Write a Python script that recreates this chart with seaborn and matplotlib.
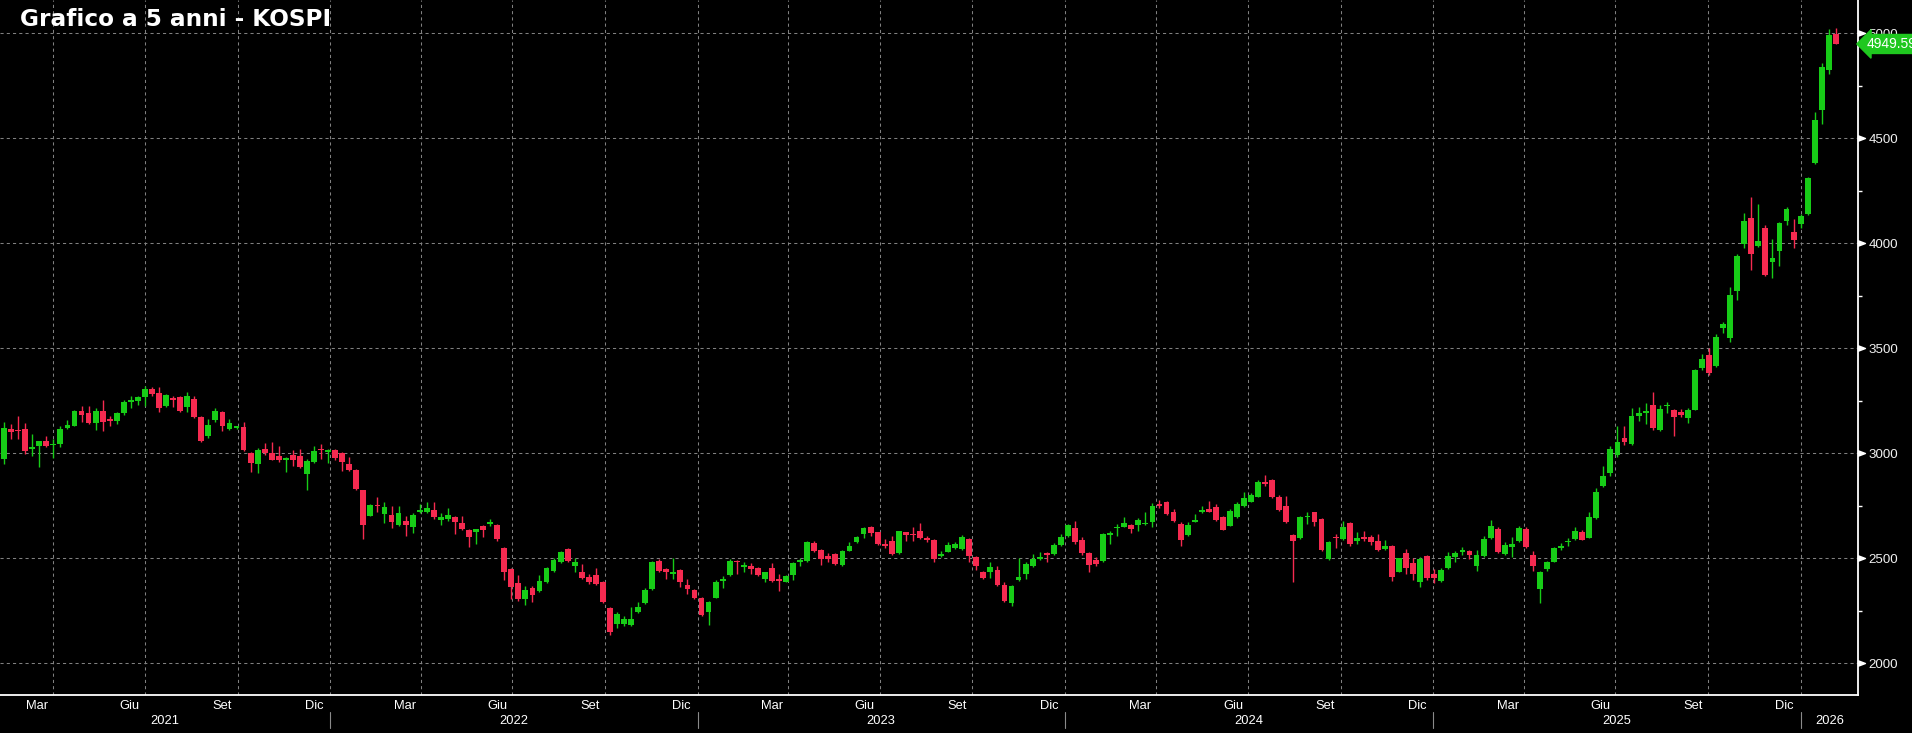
import numpy as np
import pandas as pd
import matplotlib
matplotlib.use("Agg")
import matplotlib.pyplot as plt
import matplotlib.dates as mdates
from matplotlib.transforms import blended_transform_factory
from matplotlib.path import Path
import seaborn as sns

# ---------------- data (weekly OHLC, KOSPI) ----------------
first_week = "2021-02-08"
opens = [2973, 3116, 3111, 3116, 3020, 3033, 3060, 3040, 3044, 3122,
         3132, 3202, 3192, 3144, 3202, 3163, 3156, 3192, 3246, 3251,
         3267, 3306, 3287, 3227, 3263, 3267, 3219, 3259, 3171, 3084,
         3160, 3198, 3116, 3122, 3124, 3001, 2949, 3021, 3001, 2986,
         2970, 2992, 2986, 2902, 2957, 3017, 3005, 3016, 3001, 2949,
         2921, 2825, 2703, 2754, 2711, 2706, 2660, 2679, 2651, 2719,
         2719, 2730, 2684, 2687, 2698, 2668, 2635, 2624, 2652, 2662,
         2660, 2549, 2449, 2382, 2306, 2359, 2346, 2386, 2441, 2481,
         2544, 2465, 2433, 2409, 2421, 2389, 2262, 2187, 2187, 2182,
         2243, 2287, 2354, 2487, 2449, 2425, 2444, 2373, 2351, 2309,
         2246, 2313, 2390, 2421, 2487, 2460, 2462, 2452, 2401, 2452,
         2401, 2389, 2421, 2484, 2489, 2573, 2540, 2509, 2521, 2468,
         2536, 2576, 2616, 2647, 2624, 2568, 2584, 2525, 2624, 2613,
         2628, 2595, 2587, 2509, 2532, 2547, 2544, 2592, 2508, 2436,
         2433, 2446, 2373, 2287, 2398, 2425, 2462, 2497, 2525, 2521,
         2564, 2605, 2644, 2587, 2525, 2492, 2489, 2613, 2643, 2651,
         2659, 2659, 2663, 2675, 2757, 2770, 2722, 2664, 2611, 2675,
         2719, 2735, 2743, 2695, 2656, 2695, 2751, 2770, 2794, 2865,
         2873, 2794, 2748, 2611, 2597, 2696, 2719, 2687, 2497, 2600,
         2592, 2667, 2581, 2600, 2600, 2584, 2545, 2560, 2437, 2525,
         2478, 2389, 2510, 2424, 2394, 2452, 2505, 2532, 2537, 2465,
         2510, 2595, 2640, 2521, 2555, 2584, 2640, 2516, 2354, 2449,
         2484, 2551, 2576, 2592, 2624, 2598, 2691, 2843, 2906, 2992,
         3071, 3044, 3176, 3192, 3230, 3113, 3225, 3208, 3195, 3167,
         3208, 3406, 3468, 3414, 3596, 3549, 3772, 3997, 4123, 3987,
         4075, 3913, 3965, 4107, 4052, 4091, 4138, 4382, 4637, 4828,
         4997]
highs = [3148, 3140, 3179, 3143, 3092, 3060, 3084, 3070, 3129, 3159,
         3208, 3227, 3224, 3214, 3256, 3179, 3198, 3256, 3271, 3271,
         3319, 3316, 3314, 3283, 3275, 3275, 3294, 3275, 3179, 3163,
         3214, 3203, 3163, 3132, 3148, 3008, 3024, 3049, 3055, 3033,
         2981, 3017, 3021, 2973, 3036, 3044, 3021, 3021, 3005, 2981,
         2925, 2827, 2759, 2790, 2767, 2748, 2748, 2703, 2716, 2759,
         2767, 2770, 2716, 2738, 2703, 2700, 2640, 2640, 2660, 2687,
         2663, 2552, 2452, 2421, 2367, 2367, 2421, 2460, 2500, 2536,
         2548, 2500, 2471, 2425, 2452, 2394, 2266, 2243, 2224, 2267,
         2290, 2357, 2489, 2497, 2452, 2500, 2449, 2401, 2354, 2314,
         2298, 2397, 2414, 2497, 2494, 2484, 2478, 2457, 2433, 2476,
         2425, 2421, 2484, 2500, 2582, 2582, 2544, 2525, 2525, 2541,
         2579, 2608, 2647, 2652, 2627, 2592, 2608, 2632, 2627, 2647,
         2668, 2608, 2592, 2536, 2579, 2579, 2611, 2595, 2513, 2441,
         2481, 2465, 2389, 2373, 2500, 2484, 2521, 2532, 2528, 2572,
         2616, 2662, 2676, 2600, 2528, 2505, 2619, 2632, 2664, 2695,
         2662, 2690, 2719, 2764, 2780, 2775, 2735, 2671, 2675, 2711,
         2748, 2775, 2759, 2700, 2735, 2767, 2814, 2811, 2875, 2897,
         2878, 2802, 2799, 2614, 2700, 2719, 2722, 2690, 2584, 2616,
         2679, 2671, 2624, 2632, 2611, 2616, 2589, 2563, 2503, 2544,
         2500, 2505, 2516, 2449, 2452, 2532, 2537, 2552, 2541, 2541,
         2605, 2683, 2648, 2580, 2600, 2652, 2648, 2537, 2441, 2486,
         2552, 2572, 2595, 2648, 2635, 2722, 2833, 2938, 3036, 3132,
         3132, 3216, 3219, 3240, 3294, 3230, 3243, 3212, 3211, 3215,
         3402, 3473, 3500, 3568, 3626, 3793, 3950, 4145, 4223, 4186,
         4086, 4019, 4102, 4173, 4118, 4138, 4314, 4626, 4860, 5019,
         5024]
lows = [2949, 3068, 3068, 2997, 2986, 2933, 3028, 2976, 3028, 3116,
        3129, 3148, 3140, 3111, 3108, 3132, 3140, 3184, 3214, 3230,
        3224, 3275, 3195, 3219, 3219, 3198, 3195, 3166, 3052, 3071,
        3148, 3108, 3113, 3116, 3013, 2913, 2905, 2992, 2970, 2957,
        2910, 2941, 2928, 2827, 2954, 2973, 2954, 2970, 2917, 2917,
        2827, 2592, 2700, 2719, 2668, 2643, 2656, 2608, 2619, 2716,
        2716, 2687, 2659, 2679, 2616, 2635, 2552, 2568, 2603, 2656,
        2584, 2398, 2306, 2298, 2278, 2294, 2341, 2382, 2433, 2476,
        2484, 2433, 2402, 2378, 2373, 2287, 2135, 2167, 2176, 2179,
        2239, 2282, 2351, 2433, 2401, 2401, 2362, 2330, 2306, 2227,
        2182, 2309, 2357, 2417, 2425, 2436, 2425, 2417, 2386, 2389,
        2346, 2386, 2398, 2462, 2484, 2528, 2468, 2481, 2470, 2462,
        2533, 2571, 2595, 2605, 2565, 2548, 2516, 2521, 2584, 2584,
        2592, 2576, 2484, 2505, 2528, 2544, 2541, 2481, 2446, 2401,
        2405, 2367, 2294, 2275, 2394, 2402, 2457, 2494, 2484, 2516,
        2560, 2600, 2568, 2516, 2433, 2465, 2484, 2568, 2608, 2648,
        2621, 2632, 2660, 2648, 2741, 2706, 2671, 2557, 2605, 2671,
        2714, 2719, 2679, 2633, 2652, 2690, 2746, 2767, 2791, 2846,
        2786, 2727, 2668, 2386, 2592, 2664, 2652, 2537, 2494, 2548,
        2589, 2560, 2568, 2584, 2564, 2536, 2541, 2394, 2433, 2425,
        2398, 2362, 2398, 2383, 2389, 2449, 2484, 2516, 2497, 2441,
        2505, 2592, 2525, 2516, 2505, 2579, 2548, 2441, 2287, 2441,
        2481, 2541, 2560, 2589, 2586, 2595, 2687, 2838, 2894, 2981,
        3040, 3040, 3154, 3140, 3113, 3108, 3192, 3084, 3171, 3143,
        3205, 3395, 3371, 3410, 3572, 3528, 3730, 3976, 3871, 3981,
        3843, 3835, 3893, 4086, 3976, 4075, 4134, 4378, 4567, 4806,
        4950]
closes = [3119, 3100, 3107, 3013, 3028, 3060, 3036, 3043, 3116, 3135,
          3202, 3184, 3144, 3202, 3151, 3156, 3192, 3246, 3256, 3267,
          3306, 3281, 3216, 3278, 3256, 3203, 3275, 3171, 3060, 3135,
          3203, 3128, 3144, 3124, 3017, 2954, 3017, 3001, 2970, 2970,
          2976, 2970, 2933, 2965, 3013, 3014, 3016, 2976, 2957, 2922,
          2830, 2660, 2754, 2748, 2743, 2675, 2716, 2659, 2706, 2731,
          2738, 2695, 2698, 2706, 2675, 2640, 2603, 2640, 2636, 2675,
          2592, 2436, 2362, 2306, 2349, 2327, 2394, 2452, 2492, 2532,
          2487, 2484, 2406, 2386, 2378, 2290, 2151, 2235, 2211, 2211,
          2270, 2351, 2484, 2441, 2436, 2436, 2389, 2354, 2311, 2232,
          2290, 2386, 2401, 2486, 2481, 2466, 2449, 2421, 2433, 2393,
          2393, 2414, 2478, 2493, 2576, 2536, 2497, 2497, 2473, 2536,
          2557, 2601, 2644, 2621, 2568, 2560, 2521, 2628, 2611, 2610,
          2597, 2589, 2497, 2520, 2563, 2568, 2600, 2509, 2465, 2405,
          2460, 2373, 2298, 2370, 2413, 2473, 2497, 2508, 2516, 2564,
          2603, 2659, 2576, 2524, 2470, 2473, 2616, 2621, 2651, 2668,
          2640, 2684, 2670, 2751, 2748, 2711, 2679, 2589, 2659, 2679,
          2732, 2722, 2684, 2637, 2727, 2759, 2787, 2803, 2865, 2854,
          2790, 2732, 2672, 2584, 2698, 2703, 2675, 2541, 2579, 2595,
          2648, 2568, 2595, 2592, 2579, 2541, 2560, 2413, 2500, 2452,
          2425, 2497, 2405, 2405, 2446, 2513, 2525, 2541, 2516, 2517,
          2592, 2652, 2532, 2564, 2568, 2643, 2556, 2465, 2437, 2481,
          2549, 2560, 2582, 2629, 2589, 2695, 2814, 2894, 3022, 3056,
          3056, 3176, 3192, 3200, 3119, 3211, 3230, 3171, 3184, 3206,
          3397, 3450, 3384, 3552, 3615, 3752, 3940, 4105, 3950, 4013,
          3851, 3928, 4099, 4165, 4016, 4129, 4310, 4586, 4838, 4992,
          4949.59]
y_ticks = [2000, 2500, 3000, 3500, 4000, 4500, 5000]
month_names = {3: "Mar", 6: "Giu", 9: "Set", 12: "Dic"}
last_price_text = "4949.59"
title_text = "Grafico a 5 anni - KOSPI"

# ---------------- style ----------------
GREEN = "#17cc17"
RED = "#f52a50"
GRID = "#808080"
sns.set_theme(style="dark", rc={
    "axes.facecolor": "black", "figure.facecolor": "black",
    "savefig.facecolor": "black", "axes.edgecolor": "white",
    "text.color": "white", "xtick.color": "white", "ytick.color": "white",
})
plt.rcParams["font.family"] = ["Liberation Sans", "DejaVu Sans"]

W, H = 1912, 733
fig = plt.figure(figsize=(W / 100, H / 100), dpi=100)
ax_bottom_px, ax_right_px = 695, 1858
ax = fig.add_axes([0, (H - ax_bottom_px) / H, ax_right_px / W, ax_bottom_px / H])
ax.set_facecolor("black")

df = pd.DataFrame({"date": pd.date_range(first_week, periods=len(opens), freq="7D"),
                   "open": opens, "high": highs, "low": lows, "close": closes})
df["x"] = mdates.date2num(df["date"]) + 3
df["up"] = df["close"] >= df["open"]
df["color"] = np.where(df["up"], GREEN, RED)
df["body_lo"] = df[["open", "close"]].min(axis=1)
df["body_h"] = (df["close"] - df["open"]).abs().clip(lower=6)

xmin = mdates.date2num(pd.Timestamp("2021-02-07"))
xmax = mdates.date2num(pd.Timestamp("2026-02-27"))
ax.set_xlim(xmin, xmax)
ax.set_ylim(1849, 5159)

# grid
quarters = pd.date_range("2021-04-01", "2026-01-01", freq="QS")
months = pd.date_range("2021-03-01", "2026-02-01", freq="MS")
for q in mdates.date2num(quarters):
    ax.axvline(q, color=GRID, lw=0.75, ls=(0, (3, 3)), zorder=0)
for yv in y_ticks:
    ax.axhline(yv, color=GRID, lw=0.75, ls=(0, (3, 3)), zorder=0)

# candles
ax.vlines(df["x"], df["low"], df["high"], colors=df["color"], lw=1.0, zorder=2)
ax.bar(df["x"], df["body_h"], bottom=df["body_lo"], width=5.8,
       color=df["color"], linewidth=0, zorder=3)

# spines
for s in ["top", "left"]:
    ax.spines[s].set_visible(False)
ax.spines["bottom"].set_color("white")
ax.spines["bottom"].set_linewidth(1.3)
ax.spines["right"].set_color("white")
ax.spines["right"].set_linewidth(1.3)

# x ticks
ax.set_xticks(mdates.date2num(months))
ax.set_xticklabels([])
ax.tick_params(axis="x", which="major", direction="out", length=3.5, width=1, color="white")
ax.set_xticks([], minor=True)

trans_x = blended_transform_factory(ax.transData, ax.transAxes)
axh = ax_bottom_px
for m in months:
    if m.month in month_names:
        mid = mdates.date2num(m + pd.Timedelta(days=15))
        ax.text(mid, -10.7 / axh, month_names[m.month], transform=trans_x,
                ha="center", va="center", fontsize=9.3, color="white", clip_on=False)
years = range(2021, 2027)
for yr in years:
    a = max(xmin, mdates.date2num(pd.Timestamp(f"{yr}-01-01")))
    b = min(xmax, mdates.date2num(pd.Timestamp(f"{yr + 1}-01-01")))
    ax.text((a + b) / 2, -25.7 / axh, str(yr), transform=trans_x,
            ha="center", va="center", fontsize=9.3, color="white", clip_on=False)
    if yr > 2021:
        ax.plot([a, a], [-16.7 / axh, -33.3 / axh], transform=trans_x,
                color="#8a8a8a", lw=0.8, clip_on=False)

# y axis (right)
ax.yaxis.tick_right()
ax.set_yticks(y_ticks)
ax.set_yticklabels([str(v) for v in y_ticks])
ax.set_yticks([v + 250 for v in y_ticks[:-1]], minor=True)
ax.tick_params(axis="y", which="major", length=0, pad=7.5, labelsize=9.6, labelcolor="#f0f0f0")
ax.tick_params(axis="y", which="minor", direction="out", length=3, width=1, color="white")
ax.tick_params(axis="y", left=False, labelleft=False)

arrow = Path([(0, -0.38), (1, 0), (0, 0.38), (0, -0.38)],
             [Path.MOVETO, Path.LINETO, Path.LINETO, Path.CLOSEPOLY])
trans_y = blended_transform_factory(ax.transAxes, ax.transData)
ax.plot([1.0] * len(y_ticks), y_ticks, transform=trans_y, ls="none",
        marker=arrow, markersize=10, color="white", clip_on=False)

# last price tag
ax.text(1.0 + 9 / ax_right_px, closes[-1], last_price_text, transform=trans_y,
        ha="left", va="center", fontsize=10, color="white", clip_on=False,
        bbox=dict(boxstyle="larrow,pad=0.18", fc="#1fc81f", ec="#1fc81f"))

# title
fig.text(20 / W, 1 - 19 / H, title_text, fontsize=16.7, fontweight="bold",
         color="white", ha="left", va="center", family=["DejaVu Sans"])

fig.savefig("out.png", dpi=100, facecolor="black")
